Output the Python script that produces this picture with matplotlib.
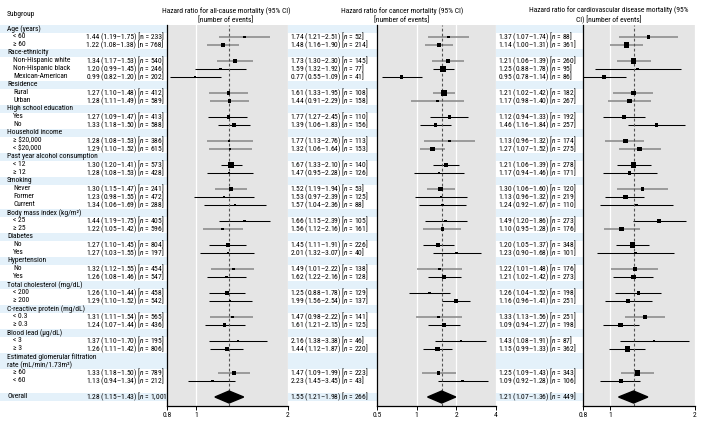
import numpy as np
import matplotlib.pyplot as plt
from matplotlib import font_manager as fm
from matplotlib.font_manager import FontProperties
from matplotlib.textpath import TextPath
from matplotlib.patches import Polygon
from matplotlib.ticker import FixedFormatter, NullLocator

# pick the narrowest sans available, then size it to the reference text width
installed = {f.name for f in fm.fontManager.ttflist}
family = 'DejaVu Sans'
for cand in ['Liberation Sans Narrow', 'Arial Narrow', 'Roboto Condensed', 'Open Sans Condensed',
             'Liberation Sans', 'Roboto']:
    if cand in installed:
        family = cand
        break
plt.rcParams['font.family'] = [family, 'DejaVu Sans']
plt.rcParams['mathtext.fontset'] = 'custom'
plt.rcParams['mathtext.it'] = family + ':italic'
plt.rcParams['mathtext.rm'] = family

sample = "1.44 (1.19–1.75) [n = 233]"
w_pt = TextPath((0, 0), sample, size=10, prop=FontProperties(family=family)).get_extents().width
FS = 10 * 76 / (w_pt * 100 / 72)

# subgroup rows (True = group heading)
labels = ["Age (years)", "< 60", "≥ 60",
          "Race-ethnicity", "Non-Hispanic white", "Non-Hispanic black", "Mexican-American",
          "Residence", "Rural", "Urban",
          "High school education", "Yes", "No",
          "Household income", "≥ $20,000", "< $20,000",
          "Past year alcohol consumption", "< 12", "≥ 12",
          "Smoking", "Never", "Former", "Current",
          "Body mass index (kg/m²)", "< 25", "≥ 25",
          "Diabetes", "No", "Yes",
          "Hypertension", "No", "Yes",
          "Total cholesterol (mg/dL)", "< 200", "≥ 200",
          "C-reactive protein (mg/dL)", "< 0.3", "≥ 0.3",
          "Blood lead (µg/dL)", "< 3", "≥ 3",
          "Estimated glomerular filtration", "rate (mL/min/1.73m²)", "≥ 60", "< 60"]
is_header = [True, False, False,
             True, False, False, False,
             True, False, False,
             True, False, False,
             True, False, False,
             True, False, False,
             True, False, False, False,
             True, False, False,
             True, False, False,
             True, False, False,
             True, False, False,
             True, False, False,
             True, False, False,
             True, True, False, False]

# all-cause mortality
allc_hr = [1.44, 1.22, 1.34, 1.20, 0.99, 1.27, 1.28, 1.27, 1.33, 1.28, 1.29, 1.30, 1.28, 1.30, 1.23,
           1.34, 1.44, 1.22, 1.27, 1.27, 1.32, 1.26, 1.26, 1.29, 1.31, 1.24, 1.37, 1.26, 1.33, 1.13]
allc_lo = [1.19, 1.08, 1.17, 0.99, 0.82, 1.10, 1.11, 1.09, 1.18, 1.08, 1.10, 1.20, 1.08, 1.15, 0.98,
           1.06, 1.19, 1.05, 1.10, 1.03, 1.12, 1.08, 1.10, 1.10, 1.11, 1.07, 1.10, 1.11, 1.18, 0.94]
allc_hi = [1.75, 1.38, 1.53, 1.45, 1.20, 1.48, 1.49, 1.47, 1.50, 1.53, 1.52, 1.41, 1.53, 1.47, 1.55,
           1.69, 1.75, 1.42, 1.45, 1.55, 1.55, 1.46, 1.44, 1.52, 1.54, 1.44, 1.70, 1.42, 1.50, 1.34]
allc_n = [233, 768, 540, 246, 202, 412, 589, 413, 588, 386, 615, 573, 428, 241, 472,
          288, 405, 596, 804, 197, 454, 547, 458, 542, 565, 436, 195, 806, 789, 212]
allc_overall = (1.28, 1.15, 1.43, 1001)

# cancer mortality
canc_hr = [1.74, 1.48, 1.73, 1.59, 0.77, 1.61, 1.44, 1.77, 1.39, 1.77, 1.32, 1.67, 1.47, 1.52, 1.53,
           1.57, 1.66, 1.56, 1.45, 2.01, 1.49, 1.62, 1.25, 1.99, 1.47, 1.61, 2.16, 1.44, 1.47, 2.23]
canc_lo = [1.21, 1.16, 1.30, 1.32, 0.55, 1.33, 0.91, 1.27, 1.06, 1.13, 1.06, 1.33, 0.95, 1.19, 0.97,
           1.04, 1.15, 1.12, 1.11, 1.32, 1.01, 1.22, 0.88, 1.56, 0.98, 1.21, 1.38, 1.12, 1.09, 1.45]
canc_hi = [2.51, 1.90, 2.30, 1.92, 1.09, 1.95, 2.29, 2.45, 1.83, 2.76, 1.64, 2.10, 2.28, 1.94, 2.39,
           2.36, 2.39, 2.16, 1.91, 3.07, 2.22, 2.16, 1.78, 2.54, 2.22, 2.15, 3.38, 1.87, 1.99, 3.45]
canc_n = [52, 214, 145, 77, 41, 108, 158, 110, 156, 113, 153, 140, 126, 53, 125,
          88, 105, 161, 226, 40, 138, 128, 129, 137, 141, 125, 46, 220, 223, 43]
canc_overall = (1.55, 1.21, 1.98, 266)

# cardiovascular disease mortality
cvd_hr = [1.37, 1.14, 1.21, 1.25, 0.95, 1.21, 1.17, 1.12, 1.46, 1.13, 1.27, 1.21, 1.17, 1.30, 1.13,
          1.24, 1.49, 1.10, 1.20, 1.23, 1.22, 1.21, 1.26, 1.16, 1.33, 1.09, 1.43, 1.15, 1.25, 1.09]
cvd_lo = [1.07, 1.00, 1.06, 0.88, 0.78, 1.02, 0.98, 0.94, 1.16, 0.96, 1.07, 1.06, 0.94, 1.06, 0.96,
          0.92, 1.20, 0.95, 1.05, 0.90, 1.01, 1.02, 1.04, 0.96, 1.13, 0.94, 1.08, 0.99, 1.09, 0.92]
cvd_hi = [1.74, 1.31, 1.39, 1.78, 1.14, 1.42, 1.40, 1.33, 1.84, 1.32, 1.52, 1.39, 1.46, 1.60, 1.32,
          1.67, 1.86, 1.28, 1.37, 1.68, 1.48, 1.42, 1.52, 1.41, 1.56, 1.27, 1.91, 1.33, 1.43, 1.28]
cvd_n = [88, 361, 260, 95, 86, 182, 267, 192, 257, 174, 275, 278, 171, 120, 219,
         110, 273, 176, 348, 101, 176, 273, 198, 251, 251, 198, 87, 362, 343, 106]
cvd_overall = (1.21, 1.07, 1.36, 449)

# rows whose CI line prints soft grey in the original
soft_ci = [0, 1, 2, 5, 6, 9, 10, 13, 17, 20, 24, 28]

W, H = 703, 423
BLUE = '#e4f1fa'
GREY = '#e5e5e5'


def ry(r):
    return 29 + 8 * r


fig = plt.figure(figsize=(W / 100, H / 100), dpi=100)
bg = fig.add_axes([0, 0, 1, 1])
bg.set_xlim(0, W)
bg.set_ylim(H, 0)
bg.axis('off')

item_rows = [r for r, h in enumerate(is_header) if not h]
overall_row = len(labels) + 1

for r, (lab, h) in enumerate(zip(labels, is_header)):
    if h:
        bg.axhspan(ry(r) - 4, ry(r) + 4, xmax=695 / W, color=BLUE, lw=0)
        bg.text(7, ry(r), lab, fontsize=FS, va='center')
    else:
        bg.text(13, ry(r), lab, fontsize=FS, va='center')
bg.axhspan(ry(overall_row) - 4, ry(overall_row) + 4, xmax=695 / W, color=BLUE, lw=0)
bg.text(7, ry(overall_row), "Overall", fontsize=FS, va='center')
bg.text(7, 14, "Subgroup", fontsize=FS, va='center')


def fmt(hr, lo, hi, n, italic=True):
    nn = "$n$" if italic else "n"
    return f"{hr:.2f} ({lo:.2f}–{hi:.2f}) [{nn} = {n:,}]"


def panel(x0, x1, xlim, ticks, ticklabels, hr, lo, hi, n, ov, tx, title, tcx, upright=0):
    for i, r in enumerate(item_rows):
        bg.text(tx, ry(r), fmt(hr[i], lo[i], hi[i], n[i], i >= upright), fontsize=FS, va='center')
    bg.text(tx, ry(overall_row), fmt(*ov), fontsize=FS, va='center')
    bg.text(tcx, 15.5, title, fontsize=FS, ha='center', va='center', linespacing=1.25)

    ax = fig.add_axes([x0 / W, (H - 406) / H, (x1 - x0) / W, (406 - 25) / H])
    ax.set_facecolor(GREY)
    ax.set_xscale('log')
    ax.set_xlim(xlim)
    ax.set_ylim(47.125, -0.5)
    ax.set_axisbelow(True)
    ax.grid(axis='x', color='white', lw=0.9)
    ax.set_xticks(ticks)
    ax.xaxis.set_major_formatter(FixedFormatter(ticklabels))
    ax.xaxis.set_minor_locator(NullLocator())
    ax.set_yticks([])
    ax.tick_params(axis='x', length=3, width=0.7, labelsize=FS, pad=1.5)
    for s in ['top', 'right']:
        ax.spines[s].set_visible(False)
    for s in ['left', 'bottom']:
        ax.spines[s].set_linewidth(0.9)

    se = (np.log(hi) - np.log(lo)) / 3.92
    side_px = 5.6 * se.min() / se
    for i, r in enumerate(item_rows):
        if i in soft_ci:
            ax.hlines(r, lo[i], hi[i], color='#8e8e8e', lw=1.2, zorder=2)
        else:
            ax.hlines(r, lo[i], hi[i], color='black', lw=0.75, zorder=2)
    ax.scatter(hr, item_rows, marker='s', s=(side_px * 0.72) ** 2, color='black', lw=0, zorder=3)
    ax.axvline(ov[0], color='#555555', lw=0.8, ls=(0, (2.5, 2.0)), zorder=2.5)
    d = Polygon([(ov[1], overall_row), (ov[0], overall_row - 0.75),
                 (ov[2], overall_row), (ov[0], overall_row + 0.75)],
                closed=True, color='black', zorder=3)
    ax.add_patch(d)
    return ax


allc_hr, allc_lo, allc_hi = map(np.array, (allc_hr, allc_lo, allc_hi))
canc_hr, canc_lo, canc_hi = map(np.array, (canc_hr, canc_lo, canc_hi))
cvd_hr, cvd_lo, cvd_hi = map(np.array, (cvd_hr, cvd_lo, cvd_hi))

panel(167, 288, (0.8, 2), [0.8, 1, 2], ["0.8", "1", "2"],
      allc_hr, allc_lo, allc_hi, allc_n, allc_overall, 86,
      "Hazard ratio for all-cause mortality (95% CI)\n[number of events]", 226, upright=2)
panel(377, 496, (0.5, 4), [0.5, 1, 2, 4], ["0.5", "1", "2", "4"],
      canc_hr, canc_lo, canc_hi, canc_n, canc_overall, 290,
      "Hazard ratio for cancer mortality (95% CI)\n[number of events]", 402)
panel(583, 695, (0.8, 2), [0.8, 1, 2], ["0.8", "1", "2"],
      cvd_hr, cvd_lo, cvd_hi, cvd_n, cvd_overall, 498,
      "Hazard ratio for cardiovascular disease mortality (95%\nCI) [number of events]", 609)

fig.savefig('out.png', dpi=100)
